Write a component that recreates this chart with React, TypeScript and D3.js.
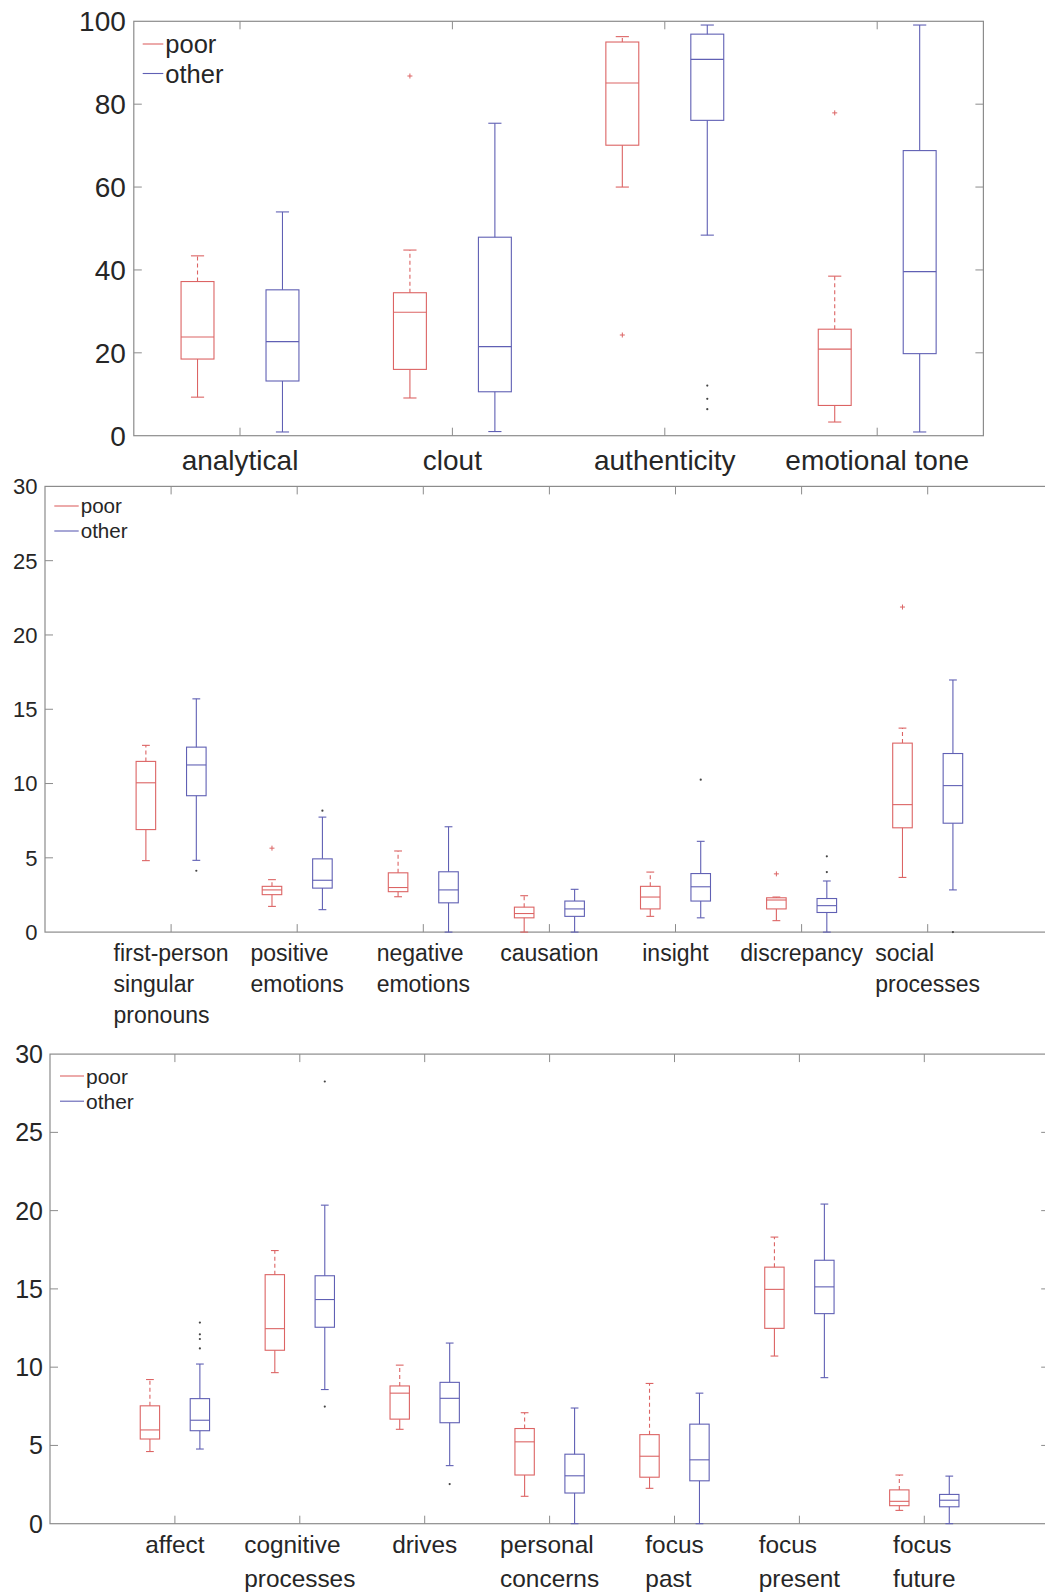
import * as d3 from 'd3';

// ---- data ----
// each box: [lower whisker, q1, median, q3, upper whisker]
const categories1 = [['analytical'], ['clout'], ['authenticity'], ['emotional tone']];
const poor1 = [
  [9.3, 18.5, 23.8, 37.2, 43.4],
  [9.1, 16.0, 29.8, 34.5, 44.8],
  [60.0, 70.1, 85.1, 95.0, 96.3],
  [3.3, 7.3, 20.9, 25.7, 38.5],
];
const other1 = [
  [0.9, 13.2, 22.7, 35.2, 54.0],
  [1.0, 10.6, 21.5, 47.9, 75.4],
  [48.4, 76.1, 90.8, 96.9, 99.1],
  [0.9, 19.8, 39.6, 68.8, 99.1],
];
const poorOut1 = [[], [86.8], [24.3], [77.9]];
const otherOut1 = [[], [], [12.1, 8.9, 6.4], []];
const yTicks1 = [0, 20, 40, 60, 80, 100];

const categories2 = [
  ['first-person', 'singular', 'pronouns'],
  ['positive', 'emotions'],
  ['negative', 'emotions'],
  ['causation'],
  ['insight'],
  ['discrepancy'],
  ['social', 'processes'],
];
const poor2 = [
  [4.81, 6.9, 10.05, 11.49, 12.57],
  [1.73, 2.52, 2.84, 3.08, 3.53],
  [2.38, 2.72, 3.0, 3.99, 5.46],
  [0.0, 0.96, 1.25, 1.68, 2.45],
  [1.06, 1.56, 2.36, 3.08, 4.04],
  [0.77, 1.56, 2.16, 2.31, 2.36],
  [3.68, 7.02, 8.58, 12.72, 13.73],
];
const other2 = [
  [4.83, 9.18, 11.25, 12.45, 15.7],
  [1.51, 2.96, 3.49, 4.93, 7.74],
  [0.0, 1.97, 2.84, 4.06, 7.09],
  [0.0, 1.06, 1.56, 2.09, 2.88],
  [0.96, 2.09, 3.05, 3.94, 6.11],
  [0.0, 1.32, 1.78, 2.26, 3.44],
  [2.84, 7.33, 9.86, 12.02, 16.97],
];
const poorOut2 = [[], [5.65], [], [], [], [3.92], [21.88]];
const otherOut2 = [[4.13], [8.17], [], [], [10.26], [4.04, 5.1], [0.0]];
const yTicks2 = [0, 5, 10, 15, 20, 25, 30];

const categories3 = [
  ['affect'],
  ['cognitive', 'processes'],
  ['drives'],
  ['personal', 'concerns'],
  ['focus', 'past'],
  ['focus', 'present'],
  ['focus', 'future'],
];
const poor3 = [
  [4.61, 5.41, 5.99, 7.53, 9.21],
  [9.65, 11.08, 12.46, 15.91, 17.45],
  [6.03, 6.68, 8.34, 8.8, 10.13],
  [1.75, 3.11, 5.23, 6.08, 7.09],
  [2.26, 2.97, 4.31, 5.69, 8.96],
  [10.71, 12.48, 14.97, 16.39, 18.31],
  [0.85, 1.15, 1.43, 2.16, 3.11],
];
const other3 = [
  [4.77, 5.94, 6.61, 7.99, 10.2],
  [8.57, 12.55, 14.32, 15.84, 20.35],
  [3.71, 6.45, 8.01, 9.03, 11.54],
  [0.0, 1.96, 3.06, 4.44, 7.39],
  [0.0, 2.74, 4.08, 6.36, 8.34],
  [9.33, 13.42, 15.13, 16.83, 20.42],
  [0.0, 1.08, 1.5, 1.87, 3.04],
];
const poorOut3 = [[], [], [], [], [], [], []];
const otherOut3 = [[12.85, 12.1, 11.8, 11.2], [7.48, 28.25], [2.53], [], [], [], []];
const yTicks3 = [0, 5, 10, 15, 20, 25, 30];

const seriesNames = ['poor', 'other'];

// ---- styling ----
const FONT = '"Liberation Sans", Arial, Helvetica, sans-serif';
const RED = '#dc6464';
const BLUE = '#6060b4';
const AXIS = '#8c8c8c';
const TEXT = '#262626';
const OFFSET = 0.2;
const BOX_W = 0.155;
const TICK_LEN = 8;

const ctx = document.createElement('canvas').getContext('2d');
function textWidth(t: string, size: number) {
  if (!ctx) return t.length * size * 0.5;
  ctx.font = `${size}px ${FONT}`;
  return ctx.measureText(t).width;
}

interface PanelProps {
  top: number;
  bottom: number;
  left: number;
  right: number;
  xDomain: [number, number];
  yMax: number;
  yTicks: number[];
  categories: string[][];
  poor: number[][];
  other: number[][];
  poorOut: number[][];
  otherOut: number[][];
  tickFont: number;
  tickGap: number;
  labelFont: number;
  labelBaseline: number;
  lineGap: number;
  legendX: [number, number];
  legendY: number;
  legendStep: number;
  legendFont: number;
}

function BoxGroup({ stats, cx, w, y, color, dashedTop }: any) {
  const [lo, q1, med, q3, hi] = stats;
  const cap = w * 0.4;
  return (
    <g stroke={color} strokeWidth={1.1} fill="none">
      <line x1={cx} x2={cx} y1={y(q3)} y2={y(hi)} strokeDasharray={dashedTop ? '4,3' : undefined} />
      <line x1={cx} x2={cx} y1={y(q1)} y2={y(lo)} />
      <line x1={cx - cap / 2} x2={cx + cap / 2} y1={y(hi)} y2={y(hi)} />
      <line x1={cx - cap / 2} x2={cx + cap / 2} y1={y(lo)} y2={y(lo)} />
      <rect x={cx - w / 2} y={y(q3)} width={w} height={y(q1) - y(q3)} />
      <line x1={cx - w / 2} x2={cx + w / 2} y1={y(med)} y2={y(med)} />
    </g>
  );
}

function Panel(p: PanelProps) {
  const x = d3.scaleLinear().domain(p.xDomain).range([p.left, p.right]);
  const y = d3.scaleLinear().domain([0, p.yMax]).range([p.bottom, p.top]);
  const unit = x(1) - x(0);
  const w = BOX_W * unit;
  const cats = d3.range(1, p.categories.length + 1);

  return (
    <g fontFamily={FONT}>
      {/* frame */}
      <rect x={p.left} y={p.top} width={p.right - p.left} height={p.bottom - p.top} fill="none" stroke={AXIS} strokeWidth={1.2} />
      {/* y ticks */}
      {p.yTicks.map((t) => (
        <g key={'y' + t}>
          {t !== 0 && t !== p.yMax && (
            <>
              <line x1={p.left} x2={p.left + TICK_LEN} y1={y(t)} y2={y(t)} stroke={AXIS} />
              <line x1={p.right - TICK_LEN} x2={p.right} y1={y(t)} y2={y(t)} stroke={AXIS} />
            </>
          )}
          <text x={p.left - p.tickGap} y={y(t)} dy="0.36em" textAnchor="end" fontSize={p.tickFont} fill={TEXT}>
            {t}
          </text>
        </g>
      ))}
      {/* x ticks + labels */}
      {cats.map((c, i) => {
        const lines = p.categories[i];
        const bw = d3.max(lines, (l) => textWidth(l, p.labelFont)) ?? 0;
        const lx = x(c) - bw / 2;
        return (
          <g key={'x' + c}>
            <line x1={x(c)} x2={x(c)} y1={p.bottom} y2={p.bottom - TICK_LEN} stroke={AXIS} />
            <line x1={x(c)} x2={x(c)} y1={p.top} y2={p.top + TICK_LEN} stroke={AXIS} />
            <text fontSize={p.labelFont} fill={TEXT}>
              {lines.map((l, j) => (
                <tspan key={j} x={lx} y={p.labelBaseline + j * p.lineGap}>
                  {l}
                </tspan>
              ))}
            </text>
          </g>
        );
      })}
      {/* boxes */}
      {cats.map((c, i) => (
        <g key={'b' + c}>
          <BoxGroup stats={p.poor[i]} cx={x(c - OFFSET)} w={w} y={y} color={RED} dashedTop />
          <BoxGroup stats={p.other[i]} cx={x(c + OFFSET)} w={w} y={y} color={BLUE} />
          {p.poorOut[i].map((v, k) => (
            <path
              key={'po' + k}
              d={`M${x(c - OFFSET) - 2.5},${y(v)}h5M${x(c - OFFSET)},${y(v) - 2.5}v5`}
              stroke={RED}
              strokeWidth={1}
            />
          ))}
          {p.otherOut[i].map((v, k) => (
            <circle key={'oo' + k} cx={x(c + OFFSET)} cy={y(v)} r={1.1} fill="#444" />
          ))}
        </g>
      ))}
      {/* legend */}
      {seriesNames.map((s, i) => {
        const ly = p.legendY + i * p.legendStep;
        return (
          <g key={s}>
            <line x1={p.legendX[0]} x2={p.legendX[1]} y1={ly} y2={ly} stroke={i === 0 ? RED : BLUE} strokeWidth={1.1} />
            <text x={p.legendX[1] + 2} y={ly} dy="0.36em" fontSize={p.legendFont} fill={TEXT}>
              {s}
            </text>
          </g>
        );
      })}
    </g>
  );
}

export default function App() {
  return (
    <div style={{ position: 'absolute', left: 0, top: 0, width: 1045, height: 1595, background: '#fff' }}>
      <svg width={1045} height={1595} style={{ display: 'block' }}>
        <rect width={1045} height={1595} fill="#fff" />
        <Panel
          top={21.3}
          bottom={435.7}
          left={133.8}
          right={983.4}
          xDomain={[0.5, 4.5]}
          yMax={100}
          yTicks={yTicks1}
          categories={categories1}
          poor={poor1}
          other={other1}
          poorOut={poorOut1}
          otherOut={otherOut1}
          tickFont={28}
          tickGap={8}
          labelFont={28}
          labelBaseline={470}
          lineGap={32}
          legendX={[142.7, 163.3]}
          legendY={44}
          legendStep={29.5}
          legendFont={25.5}
        />
        <Panel
          top={486.4}
          bottom={932.1}
          left={45}
          right={1053.8}
          xDomain={[0, 8]}
          yMax={30}
          yTicks={yTicks2}
          categories={categories2}
          poor={poor2}
          other={other2}
          poorOut={poorOut2}
          otherOut={otherOut2}
          tickFont={22}
          tickGap={7.5}
          labelFont={23}
          labelBaseline={961}
          lineGap={31}
          legendX={[54.3, 78.7]}
          legendY={506}
          legendStep={25}
          legendFont={20.6}
        />
        <Panel
          top={1054.1}
          bottom={1523.7}
          left={50}
          right={1049.2}
          xDomain={[0, 8]}
          yMax={30}
          yTicks={yTicks3}
          categories={categories3}
          poor={poor3}
          other={other3}
          poorOut={poorOut3}
          otherOut={otherOut3}
          tickFont={25}
          tickGap={7}
          labelFont={24.4}
          labelBaseline={1553}
          lineGap={34}
          legendX={[60, 84]}
          legendY={1076}
          legendStep={25.2}
          legendFont={21}
        />
      </svg>
    </div>
  );
}
